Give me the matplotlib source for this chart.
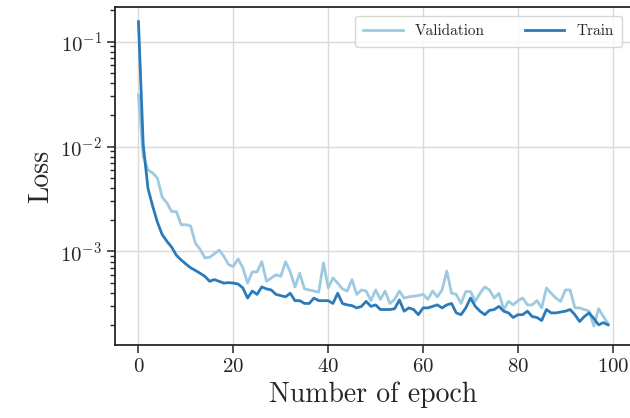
import numpy as np
import matplotlib
matplotlib.use("Agg")
import matplotlib.pyplot as plt

plt.rcParams["font.family"] = "serif"
plt.rcParams["font.serif"] = ["cmr10", "DejaVu Serif"]
plt.rcParams["mathtext.fontset"] = "cm"
plt.rcParams["axes.formatter.use_mathtext"] = True

# Loss per epoch
epochs = np.arange(100)
train_loss = [
    1.55e-1, 1.05e-2, 4.0e-3, 2.7e-3, 1.9e-3, 1.45e-3, 1.25e-3, 1.1e-3, 9.2e-4, 8.3e-4,
    7.6e-4, 7.0e-4, 6.6e-4, 6.2e-4, 5.8e-4, 5.2e-4, 5.4e-4, 5.2e-4, 5.0e-4, 5.05e-4,
    5.0e-4, 4.9e-4, 4.5e-4, 3.6e-4, 4.2e-4, 3.9e-4, 4.6e-4, 4.4e-4, 4.3e-4, 3.9e-4,
    3.8e-4, 3.7e-4, 4.0e-4, 3.4e-4, 3.4e-4, 3.2e-4, 3.2e-4, 3.6e-4, 3.4e-4, 3.4e-4,
    3.4e-4, 3.2e-4, 4.0e-4, 3.2e-4, 3.1e-4, 3.05e-4, 2.9e-4, 3.0e-4, 3.35e-4, 3.0e-4,
    3.1e-4, 2.8e-4, 2.8e-4, 2.8e-4, 2.85e-4, 3.45e-4, 2.7e-4, 2.9e-4, 2.8e-4, 2.5e-4,
    2.9e-4, 2.9e-4, 3.0e-4, 3.1e-4, 2.9e-4, 3.1e-4, 3.2e-4, 2.6e-4, 2.5e-4, 2.9e-4,
    3.6e-4, 3.0e-4, 2.7e-4, 2.5e-4, 2.75e-4, 2.8e-4, 3.0e-4, 2.7e-4, 2.6e-4, 2.35e-4,
    2.5e-4, 2.5e-4, 2.7e-4, 2.4e-4, 2.35e-4, 2.2e-4, 2.8e-4, 2.6e-4, 2.6e-4, 2.65e-4,
    2.7e-4, 2.8e-4, 2.5e-4, 2.15e-4, 2.4e-4, 2.6e-4, 2.3e-4, 2.0e-4, 2.1e-4, 2.0e-4,
]
val_loss = [
    3.1e-2, 8.0e-3, 6.0e-3, 5.6e-3, 5.0e-3, 3.3e-3, 2.9e-3, 2.4e-3, 2.4e-3, 1.8e-3,
    1.8e-3, 1.75e-3, 1.2e-3, 1.05e-3, 8.7e-4, 8.8e-4, 9.5e-4, 1.03e-3, 9.0e-4, 7.5e-4,
    7.2e-4, 8.5e-4, 7.0e-4, 5.0e-4, 6.4e-4, 6.4e-4, 8.0e-4, 5.2e-4, 5.6e-4, 6.0e-4,
    5.8e-4, 8.0e-4, 6.4e-4, 4.6e-4, 6.2e-4, 4.4e-4, 4.3e-4, 4.2e-4, 4.1e-4, 7.8e-4,
    4.5e-4, 5.6e-4, 5.0e-4, 4.4e-4, 4.2e-4, 5.4e-4, 3.9e-4, 4.3e-4, 4.2e-4, 3.4e-4,
    4.3e-4, 3.5e-4, 4.2e-4, 3.2e-4, 3.5e-4, 4.2e-4, 3.6e-4, 3.7e-4, 3.75e-4, 3.8e-4,
    3.9e-4, 3.5e-4, 4.2e-4, 3.7e-4, 4.3e-4, 6.5e-4, 4.0e-4, 3.9e-4, 3.2e-4, 4.15e-4,
    4.15e-4, 3.35e-4, 4.0e-4, 4.6e-4, 4.3e-4, 3.6e-4, 4.0e-4, 2.8e-4, 3.35e-4, 3.1e-4,
    3.4e-4, 3.6e-4, 3.1e-4, 3.1e-4, 3.4e-4, 2.9e-4, 4.5e-4, 4.0e-4, 3.6e-4, 3.35e-4,
    4.3e-4, 4.3e-4, 2.9e-4, 2.9e-4, 2.8e-4, 2.7e-4, 1.95e-4, 2.85e-4, 2.4e-4, 2.05e-4,
]

fig = plt.figure(figsize=(6.3, 4.18), dpi=100)
ax = fig.add_axes([0.1825, 0.175, 0.82, 0.808])

ax.plot(epochs, val_loss, color="#9ecae1", linewidth=2.0, label="Validation")
ax.plot(epochs, train_loss, color="#2b7bba", linewidth=2.0, label="Train")

ax.set_yscale("log")
ax.set_ylim(1.29e-4, 0.213)
ax.set_xlim(-4.95, 103.95)
ax.set_xticks([0, 20, 40, 60, 80, 100])

ax.grid(True, which="major", color="#d9d9d9", linewidth=1.0)
ax.set_axisbelow(True)
for s in ax.spines.values():
    s.set_color("#262626")
    s.set_linewidth(1.3)

ax.tick_params(axis="both", which="major", direction="out", length=6, width=1.1,
               labelsize=15, colors="#262626")
ax.tick_params(axis="y", which="minor", direction="out", length=3.5, width=1.0,
               colors="#262626")

ax.set_xlabel("Number of epoch", fontsize=20, color="#262626")
ax.set_ylabel("Loss", fontsize=20, color="#262626")

leg = ax.legend(loc="upper right", ncol=2, fontsize=11, frameon=True,
                handlelength=2.6, columnspacing=2.6, borderaxespad=0.6,
                borderpad=0.55)
leg.get_frame().set_edgecolor("#cccccc")
for t in leg.get_texts():
    t.set_color("#262626")

plt.savefig("out.png", dpi=100)
